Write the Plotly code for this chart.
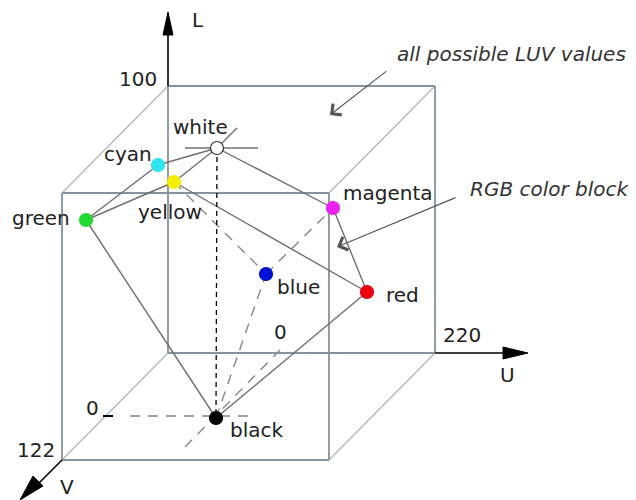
import plotly.graph_objects as go

# cube corners in picture units: back face (0-3), front face (4-7)
cube_x = [168, 435, 435, 168, 62, 329, 329, 62]
cube_y = [86, 86, 353, 353, 193, 193, 460, 460]
face_edges = [(0, 1), (1, 2), (2, 3), (3, 0), (4, 5), (5, 6), (6, 7), (7, 4)]
depth_edges = [(0, 4), (1, 5), (2, 6), (3, 7)]

# RGB corners as they land in the LUV block
colour_names = ["white", "cyan", "yellow", "green", "magenta", "blue", "red", "black"]
colour_x = [217, 158, 174, 86, 333, 266, 367, 216]
colour_y = [148, 165, 182, 220, 208, 274, 292, 418]
colour_fill = ["#ffffff", "#30e4f2", "#f6f000", "#20dc30", "#ec20ec", "#0010d8", "#ee0010", "#000000"]

solid_links = [("green", "cyan"), ("green", "yellow"), ("cyan", "white"), ("yellow", "white"),
               ("white", "magenta"), ("yellow", "red"), ("magenta", "red"),
               ("green", "black"), ("red", "black")]
dashed_links = [("yellow", "blue"), ("blue", "magenta"), ("black", "blue")]

# guide lines around white / black
cross_x = [[185, 258], [217, 237]]
cross_y = [[148, 148], [148, 128]]
guide_x = [[130, 250], [185, 280]]
guide_y = [[416, 416], [447, 350]]

# axis arrows: line start, line end, arrowhead triangle
axis_names = ["L", "U", "V"]
axis_line_x = [[168, 168], [435, 520], [62, 30]]
axis_line_y = [[86, 20], [353, 353], [460, 492]]
head_x = [[168, 163, 173], [528, 503, 503], [20, 33, 43]]
head_y = [[12, 35, 35], [353, 347, 359], [500, 476, 486]]

# text labels
label_text = ["white", "cyan", "yellow", "green", "magenta", "blue", "red", "black",
              "0", "0", "100", "122", "220", "L", "U", "V"]
label_x = [200, 128, 170, 41, 388, 298, 402, 257, 280, 92, 138, 36, 462, 198, 507, 67]
label_y = [127, 154, 212, 218, 193, 287, 295, 430, 332, 408, 79, 450, 335, 20, 375, 487]

callout_text = ["all possible LUV values", "RGB color block"]
callout_x = [511, 550]
callout_y = [54, 189]
callout_from_x = [388, 457]
callout_from_y = [70, 197]
callout_to_x = [330, 337]
callout_to_y = [115, 247]

fig = go.Figure()


def seg(x, y, color, width, dash="solid"):
    fig.add_trace(go.Scatter(x=x, y=y, mode="lines", hoverinfo="skip",
                             line=dict(color=color, width=width, dash=dash)))


for a, b in depth_edges:
    seg([cube_x[a], cube_x[b]], [cube_y[a], cube_y[b]], "#b0b9be", 1.3)
for a, b in face_edges:
    seg([cube_x[a], cube_x[b]], [cube_y[a], cube_y[b]], "#8393a0", 1.8)

pos = {n: (x, y) for n, x, y in zip(colour_names, colour_x, colour_y)}
for a, b in solid_links:
    seg([pos[a][0], pos[b][0]], [pos[a][1], pos[b][1]], "#707070", 1.4)
for a, b in dashed_links:
    seg([pos[a][0], pos[b][0]], [pos[a][1], pos[b][1]], "#888888", 1.4, "10px,8px")

seg([pos["white"][0], pos["black"][0]], [pos["white"][1], pos["black"][1]], "#000000", 1.3, "5px,4px")
for x, y in zip(cross_x, cross_y):
    seg(x, y, "#707070", 1.4)
for x, y in zip(guide_x, guide_y):
    seg(x, y, "#888888", 1.4, "10px,8px")
seg([103, 113], [416, 416], "#000000", 2)

for lx, ly, hx, hy in zip(axis_line_x, axis_line_y, head_x, head_y):
    seg(lx, ly, "#000000", 1.6)
    fig.add_trace(go.Scatter(x=hx + [hx[0]], y=hy + [hy[0]], mode="lines", fill="toself",
                             fillcolor="#000000", line=dict(color="#000000", width=1),
                             hoverinfo="skip"))

fig.add_trace(go.Scatter(
    x=colour_x, y=colour_y, mode="markers", hoverinfo="skip",
    marker=dict(size=13, color=colour_fill,
                line=dict(color=["#333333"] + colour_fill[1:], width=1.2)),
))

for t, x, y in zip(label_text, label_x, label_y):
    fig.add_annotation(x=x, y=y, text=t, showarrow=False, xanchor="center", yanchor="middle",
                       font=dict(family="DejaVu Sans", size=20, color="#222222"))

for t, x, y in zip(callout_text, callout_x, callout_y):
    fig.add_annotation(x=x, y=y, text="<i>" + t + "</i>", showarrow=False,
                       font=dict(family="DejaVu Sans", size=20, color="#333333"))

for fx, fy, tx, ty in zip(callout_from_x, callout_from_y, callout_to_x, callout_to_y):
    fig.add_annotation(x=tx, y=ty, ax=fx, ay=fy, xref="x", yref="y", axref="x", ayref="y",
                       text="", showarrow=True, arrowhead=4, arrowsize=2.5, arrowwidth=1.1,
                       arrowcolor="#555555", standoff=0)

fig.update_xaxes(range=[0, 636], visible=False)
fig.update_yaxes(range=[500, 0], visible=False)
fig.update_layout(width=636, height=500, margin=dict(l=0, r=0, t=0, b=0),
                  showlegend=False, plot_bgcolor="white", paper_bgcolor="white")

# the page body has a default margin; remove it so the figure fills the window
fig.write_html("out.html", config={"displayModeBar": False},
               post_script="document.body.style.margin='0';"
               "document.body.style.overflow='hidden';")
